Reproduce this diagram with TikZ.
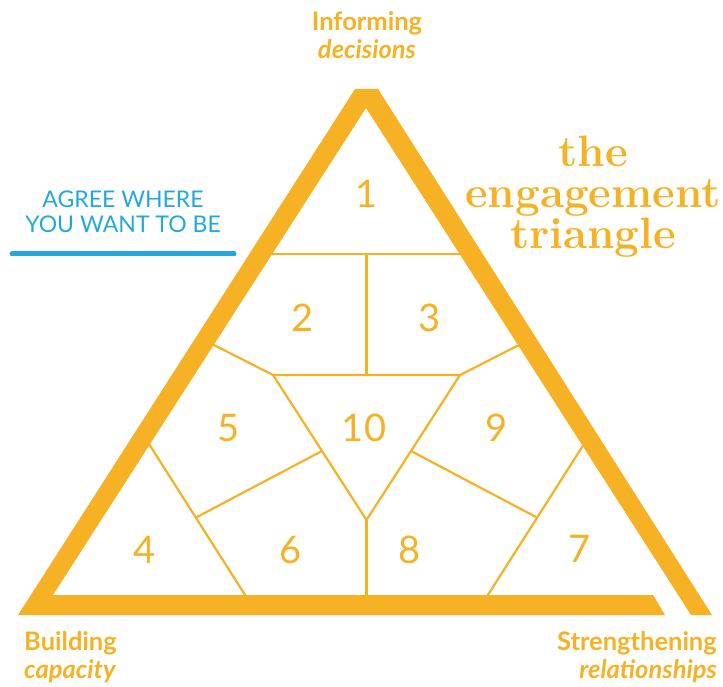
\documentclass[tikz,border=0pt]{standalone}
\usepackage{fontspec}
\newfontfamily\lato{Lato}
\definecolor{tri}{HTML}{F6B124}
\definecolor{agree}{HTML}{22A8DF}

\tikzset{
	num/.style={text=tri, inner sep=0pt, font=\lato\fontsize{38}{38}\selectfont},
	corner/.style={text=tri, inner sep=0pt, font=\lato\fontsize{25.5}{28}\selectfont\bfseries},
	part/.style={draw=tri, line width=2.2pt, line cap=round},
}

\begin{document}
\begin{tikzpicture}[x=1pt, y=-1pt]
		%%%%% START %%%%%
		\useasboundingbox (0,0) rectangle (723,687);
		
		\draw[part] (270,254) -- (463,254);
		\draw[part] (366.5,254) -- (366.5,375);
		\draw[part] (212,344) -- (273,375) -- (460,375) -- (521,344);
		\draw[part] (273,375) -- (366.5,520) -- (460,375);
		\draw[part] (366.5,520) -- (366.5,598);
		
		\draw[part] (149,444) -- (247,598);
		\draw[part] (584,444) -- (486,598);
		\draw[part] (322,451) -- (197,517);
		\draw[part] (411,451) -- (536,517);
		
		\fill[tri] (665,615) -- (18,615) -- (355,89) -- (378,89) -- (712,615) -- (691,615)
			-- (366,108) -- (53,595) -- (653,595) -- cycle;
		
		\node[num] (n1) at (367,194) {1};
		\node[num] (n2) at (303,318) {2};
		\node[num] (n3) at (430,318) {3};
		\node[num] (n5) at (229,428) {5};
		\node[num] (n10) at (364,428) {10};
		\node[num] (n9) at (497,428) {9};
		\node[num] (n4) at (145,550) {4};
		\node[num] (n6) at (291,550) {6};
		\node[num] (n8) at (410,550) {8};
		\node[num] (n7) at (580,549) {7};
		
		% base = baseline of the last line
		\node[corner, align=center, anchor=base] (inform) at (367,59) {Informing\\\itshape decisions};
		\node[corner, align=left, anchor=base west] (build) at (24,678) {Building\\\itshape capacity};
		\node[corner, align=right, anchor=base east] (strength) at (717,678) {Strengthening\\\itshape relationships};
		
		\node[text=tri, inner sep=0pt, align=center, anchor=base,
			font=\bfseries\fontsize{44}{41}\selectfont] (title) at (593,249) {the\\engagement\\triangle};
		
		\node[text=agree, inner sep=0pt, align=center, anchor=base,
			font=\lato\fontsize{23}{25}\selectfont] (agree) at (123,233) {AGREE WHERE\\YOU WANT TO BE};
		\draw[agree, line width=5pt, line cap=round] (12,254) -- (234,254);
		%%%%% END %%%%%
\end{tikzpicture}
\end{document}
